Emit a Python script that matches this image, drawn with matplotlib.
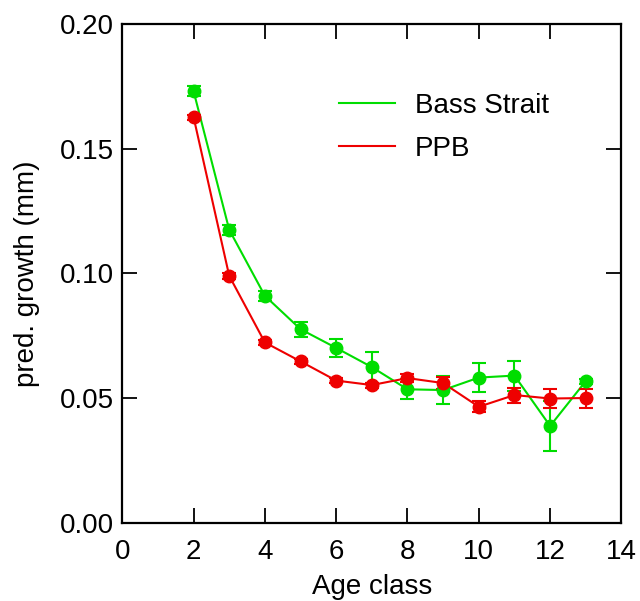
import matplotlib
matplotlib.use("Agg")
import matplotlib.pyplot as plt

plt.rcParams["font.family"] = ["Liberation Sans", "DejaVu Sans"]

age = [2, 3, 4, 5, 6, 7, 8, 9, 10, 11, 12, 13]

bass_mean = [0.1731, 0.1175, 0.0910, 0.0776, 0.0701, 0.0624, 0.0535, 0.0532, 0.0582, 0.0590, 0.0388, 0.0568]
bass_err = [0.0020, 0.0020, 0.0020, 0.0030, 0.0035, 0.0062, 0.0040, 0.0055, 0.0058, 0.0060, 0.0100, 0.0010]

ppb_mean = [0.1627, 0.0990, 0.0723, 0.0647, 0.0570, 0.0552, 0.0580, 0.0560, 0.0465, 0.0512, 0.0498, 0.0500]
ppb_err = [0.0010, 0.0012, 0.0010, 0.0010, 0.0010, 0.0010, 0.0015, 0.0024, 0.0023, 0.0030, 0.0040, 0.0038]

green = "#00dd00"
red = "#ee0000"

fig = plt.figure(figsize=(6.4, 6.01), dpi=100)
ax = fig.add_axes([0.191, 0.1303, 0.780, 0.8297])

for y, e, c, lab in [(bass_mean, bass_err, green, "Bass Strait"), (ppb_mean, ppb_err, red, "PPB")]:
    ax.plot(age, y, color=c, linewidth=1.5, label=lab)
    ax.errorbar(age, y, yerr=e, fmt="o", color=c, markersize=9, elinewidth=1.5,
                capsize=5, capthick=1.5)

ax.set_xlim(0, 14)
ax.set_ylim(0, 0.20)
ax.set_xticks(range(0, 15, 2))
ax.set_yticks([0.0, 0.05, 0.10, 0.15, 0.20])
ax.set_yticklabels(["0.00", "0.05", "0.10", "0.15", "0.20"])
ax.tick_params(direction="in", length=11, width=1.3, labelsize=20,
               top=True, right=True)
ax.tick_params(axis="x", pad=12)
ax.tick_params(axis="y", pad=6)
for s in ax.spines.values():
    s.set_linewidth(1.6)

ax.set_xlabel("Age class", fontsize=20, labelpad=6)
ax.set_ylabel("pred. growth (mm)", fontsize=20, labelpad=14)

ax.legend(loc="upper left", bbox_to_anchor=(0.412, 0.884), borderaxespad=0,
          frameon=False, fontsize=20, handlelength=2.0, handletextpad=0.72,
          labelspacing=0.6)

fig.savefig("out.png")
